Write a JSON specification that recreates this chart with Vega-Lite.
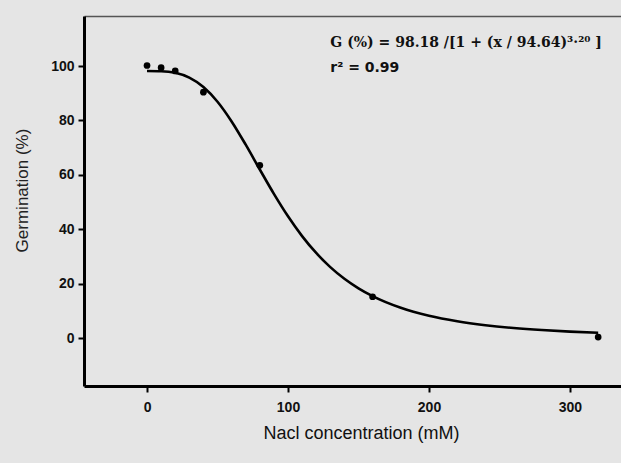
{
  "$schema": "https://vega.github.io/schema/vega-lite/v6.json",
  "width": 537,
  "height": 370,
  "autosize": {"type": "none"},
  "padding": {"left": 84, "top": 16, "right": 0, "bottom": 77},
  "background": "#e5e5e5",
  "config": {"view": {"stroke": null}},
  "resolve": {"axis": {"x": "independent"}},
  "datasets": {
    "obs": [
      {"conc": 0, "germ": 100.2},
      {"conc": 10, "germ": 99.4},
      {"conc": 20, "germ": 98.2},
      {"conc": 40, "germ": 90.4},
      {"conc": 80, "germ": 63.5},
      {"conc": 160, "germ": 15.2},
      {"conc": 320, "germ": 0.4}
    ],
    "fit": [
      {"conc": 0, "germ": 98.18}, {"conc": 10, "germ": 98.11}, {"conc": 20, "germ": 97.51},
      {"conc": 30, "germ": 95.76}, {"conc": 40, "germ": 92.31}, {"conc": 50, "germ": 86.9},
      {"conc": 60, "germ": 79.65}, {"conc": 70, "germ": 71.09}, {"conc": 80, "germ": 61.98},
      {"conc": 90, "germ": 53.03}, {"conc": 100, "germ": 44.77}, {"conc": 110, "germ": 37.5},
      {"conc": 120, "germ": 31.29}, {"conc": 130, "germ": 26.1}, {"conc": 140, "germ": 21.81},
      {"conc": 150, "germ": 18.3}, {"conc": 160, "germ": 15.42}, {"conc": 180, "germ": 11.13},
      {"conc": 200, "germ": 8.21}, {"conc": 220, "germ": 6.19}, {"conc": 240, "germ": 4.76},
      {"conc": 260, "germ": 3.72}, {"conc": 280, "germ": 2.96}, {"conc": 300, "germ": 2.39},
      {"conc": 320, "germ": 1.95}
    ],
    "eq": [
      {"conc": 130, "germ": 108.5, "label": "G (%)  = 98.18 /[1 + (x / 94.64)³·²⁰ ]"}
    ],
    "r2": [
      {"conc": 130, "germ": 99.3, "label": "r² = 0.99"}
    ]
  },
  "layer": [
    {
      "data": {"name": "fit"},
      "mark": {"type": "line", "color": "#000000", "strokeWidth": 2.6, "interpolate": "monotone"},
      "encoding": {
        "x": {
          "field": "conc", "type": "quantitative",
          "scale": {"domain": [-44.7, 336.2], "nice": false, "zero": false},
          "axis": {
            "values": [0, 100, 200, 300], "grid": false,
            "domainColor": "#000000", "domainWidth": 3,
            "tickColor": "#000000", "tickWidth": 2, "tickSize": 6,
            "labelFont": "Liberation Sans", "labelFontWeight": "bold", "labelFontSize": 14,
            "labelColor": "#111111", "labelPadding": 8,
            "title": "Nacl concentration (mM)",
            "titleFont": "Liberation Sans", "titleFontSize": 18, "titleFontWeight": "normal",
            "titleColor": "#111111", "titlePadding": 10, "titleX": 277
          }
        },
        "y": {
          "field": "germ", "type": "quantitative",
          "scale": {"domain": [-17.6, 118.4], "nice": false, "zero": false},
          "axis": {
            "values": [0, 20, 40, 60, 80, 100], "grid": false,
            "domainColor": "#000000", "domainWidth": 3,
            "tickColor": "#000000", "tickWidth": 2, "tickSize": 6,
            "labelFont": "Liberation Sans", "labelFontWeight": "bold", "labelFontSize": 14,
            "labelColor": "#111111", "labelPadding": 4,
            "title": "Germination (%)",
            "titleFont": "Liberation Sans", "titleFontSize": 17, "titleFontWeight": "normal",
            "titleColor": "#222222", "titleAngle": 270, "titleAlign": "center",
            "titleBaseline": "middle", "titleX": -62, "titleY": 174
          }
        }
      }
    },
    {
      "data": {"name": "obs"},
      "mark": {"type": "point", "filled": true, "color": "#000000", "size": 45, "opacity": 1},
      "encoding": {
        "x": {"field": "conc", "type": "quantitative",
          "axis": {"orient": "top", "labels": false, "ticks": false, "grid": false, "title": null,
                   "domainColor": "#555555", "domainWidth": 1.5}},
        "y": {"field": "germ", "type": "quantitative"}
      }
    },
    {
      "data": {"name": "eq"},
      "mark": {"type": "text", "align": "left", "baseline": "middle", "font": "DejaVu Serif", "fontWeight": "bold", "fontSize": 14, "color": "#111111"},
      "encoding": {
        "x": {"field": "conc", "type": "quantitative", "axis": null},
        "y": {"field": "germ", "type": "quantitative"},
        "text": {"field": "label"}
      }
    },
    {
      "data": {"name": "r2"},
      "mark": {"type": "text", "align": "left", "baseline": "middle", "font": "DejaVu Sans", "fontWeight": "bold", "fontSize": 14, "color": "#111111"},
      "encoding": {
        "x": {"field": "conc", "type": "quantitative", "axis": null},
        "y": {"field": "germ", "type": "quantitative"},
        "text": {"field": "label"}
      }
    }
  ]
}
